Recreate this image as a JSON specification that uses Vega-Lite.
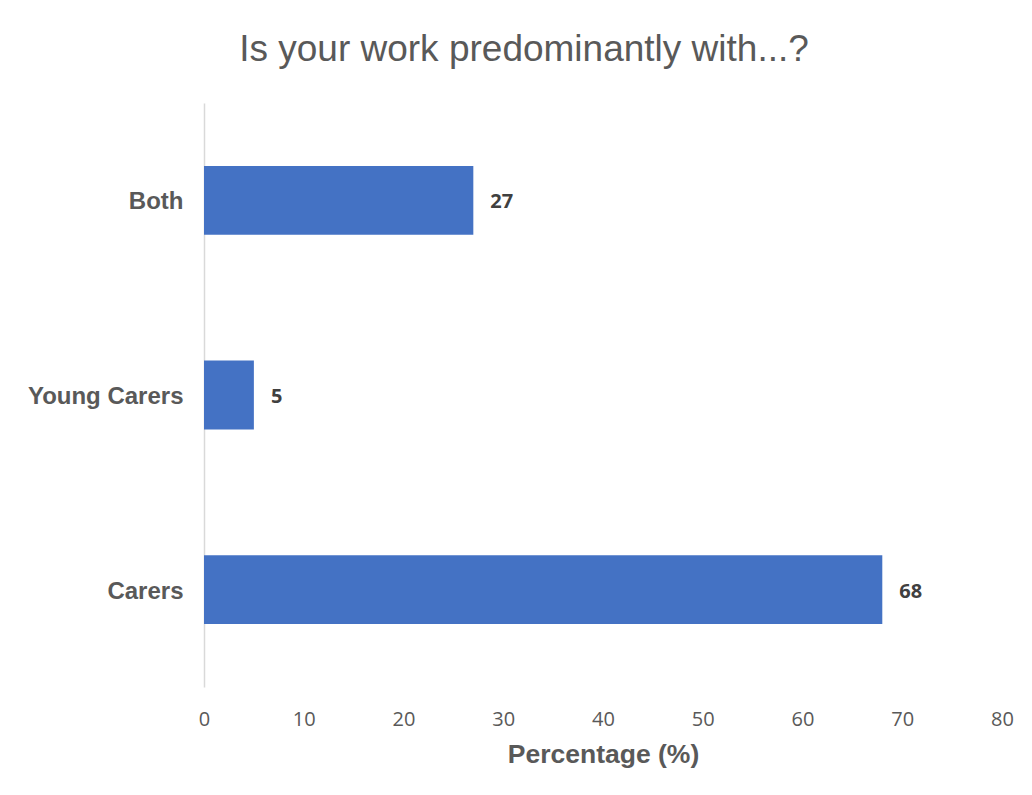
{
  "$schema": "https://vega.github.io/schema/vega-lite/v6.json",
  "autosize": "none",
  "width": 798,
  "height": 584,
  "padding": {"left": 204, "top": 103, "right": 30, "bottom": 108},
  "background": "white",
  "config": {"view": {"stroke": null}},
  "title": {
    "text": "Is your work predominantly with...?",
    "font": "Liberation Sans",
    "fontSize": 37,
    "fontWeight": "normal",
    "color": "#595959",
    "anchor": "middle",
    "dx": -79,
    "offset": 34
  },
  "data": {
    "values": [
      {"category": "Both", "value": 27},
      {"category": "Young Carers", "value": 5},
      {"category": "Carers", "value": 68}
    ]
  },
  "encoding": {
    "y": {
      "field": "category",
      "type": "nominal",
      "sort": ["Both", "Young Carers", "Carers"],
      "scale": {"paddingInner": 0.646, "paddingOuter": 0.323},
      "axis": {
        "title": null,
        "ticks": false,
        "labelPadding": 21,
        "labelOffset": 2,
        "labelFont": "Liberation Sans",
        "labelFontSize": 24,
        "labelFontWeight": "bold",
        "labelColor": "#595959",
        "domainColor": "#d9d9d9",
        "domainWidth": 1.5,
        "grid": false
      }
    },
    "x": {
      "field": "value",
      "type": "quantitative",
      "scale": {"domain": [0, 80], "nice": false},
      "axis": {
        "title": "Percentage (%)",
        "values": [0, 10, 20, 30, 40, 50, 60, 70, 80],
        "domain": false,
        "ticks": false,
        "grid": false,
        "labelFlush": false,
        "labelPadding": 22,
        "labelFont": "Open Sans",
        "labelFontSize": 20,
        "labelColor": "#595959",
        "titleFont": "Liberation Sans",
        "titleFontSize": 26.5,
        "titleFontWeight": "bold",
        "titleColor": "#595959",
        "titlePadding": 12
      }
    }
  },
  "layer": [
    {"mark": {"type": "bar", "color": "#4472C4"}},
    {
      "mark": {
        "type": "text",
        "align": "left",
        "baseline": "middle",
        "dx": 17,
        "dy": 2,
        "font": "Open Sans",
        "fontSize": 20,
        "fontWeight": "bold",
        "color": "#404040"
      },
      "encoding": {"text": {"field": "value", "type": "quantitative"}}
    }
  ]
}
